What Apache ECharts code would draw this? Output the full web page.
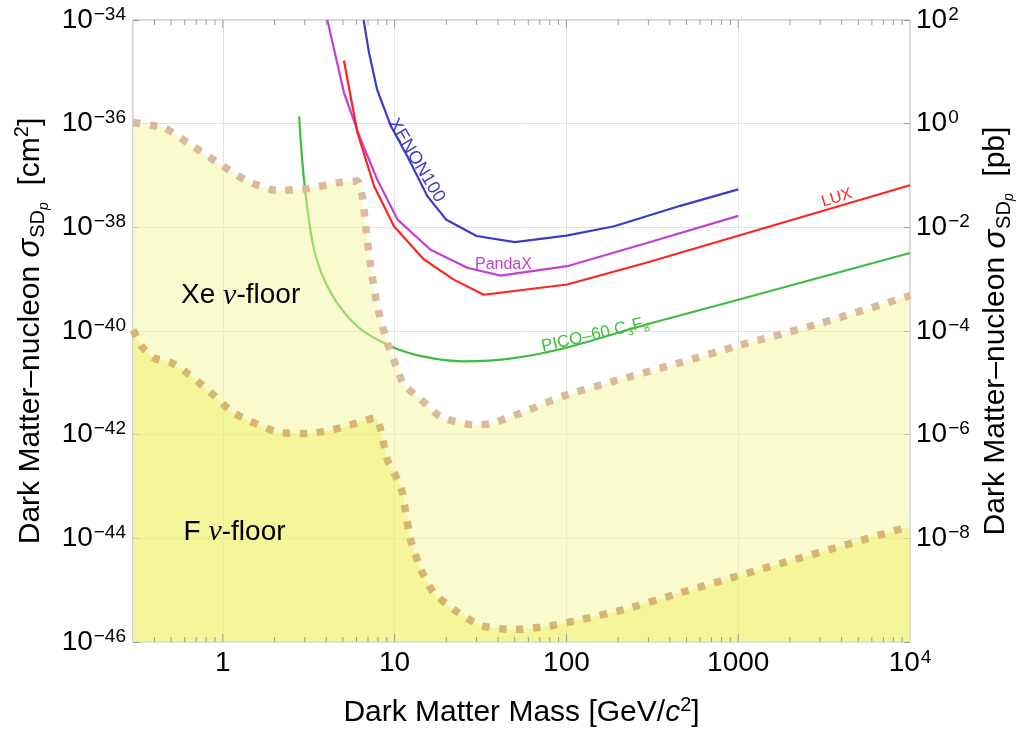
<!DOCTYPE html>
<html>
<head>
<meta charset="utf-8">
<script src="https://cdn.jsdelivr.net/npm/echarts@6/dist/echarts.min.js"></script>
<style>
html, body { margin: 0; padding: 0; background: #ffffff; }
#chart { width: 1018px; height: 730px; }
</style>
</head>
<body>
<div id="chart"></div>
<script>
const FONT = "'Liberation Sans', Arial, Helvetica, sans-serif";

// Spin-dependent WIMP-proton exclusion limits: mass [GeV/c^2], cross section [cm^2]
const xenon100Mass  = [6.6, 7.1, 7.9, 9.5, 11.9, 15.5, 20, 30, 50, 100, 190, 460, 1000];
const xenon100Sigma = [1.0e-34, 2.3e-35, 4.6e-36, 9.1e-37, 2.3e-37, 4.0e-38, 1.4e-38, 6.8e-39, 5.2e-39, 6.9e-39, 1.05e-38, 2.6e-38, 5.4e-38];

const pandaxMass  = [4.06, 5.07, 6.34, 7.93, 10.4, 16.2, 26.5, 41.4, 101, 294, 1000];
const pandaxSigma = [1.0e-34, 3.98e-36, 5.0e-37, 8.3e-38, 1.41e-38, 3.7e-39, 1.66e-39, 1.17e-39, 1.78e-39, 5.0e-39, 1.66e-38];

const luxMass  = [5.07, 6.07, 7.59, 9.91, 14.8, 22.1, 33, 101, 295, 1000, 10000];
const luxSigma = [1.66e-35, 6.76e-37, 6.3e-38, 1.05e-38, 2.4e-39, 9.8e-40, 5.0e-40, 7.9e-40, 2.1e-39, 6.9e-39, 6.5e-38];

const picoMass  = [2.78, 2.97, 3.40, 4.25, 6.07, 9.48, 14.8, 25.3, 49.4, 101, 295, 1000, 10000];
const picoSigma = [1.38e-36, 8.3e-38, 3.7e-39, 5.5e-40, 1.23e-40, 5.1e-41, 3.2e-41, 2.6e-41, 3.0e-41, 4.8e-41, 1.35e-40, 4.0e-40, 3.2e-39];

// Neutrino floors (coherent neutrino scattering backgrounds) for xenon and fluorine targets
const xeFloorMass  = [0.3, 0.456, 0.623, 0.931, 1.39, 2.08, 3.11, 4.86, 6.07, 6.49, 6.78, 7.25, 7.93, 9.07, 10.4, 11.3, 14.2, 18.5, 28.9, 36.1, 54.1, 96.4, 188, 460, 1000, 3000, 10000];
const xeFloorSigma = [1.05e-36, 8.3e-37, 4.3e-37, 1.78e-37, 7.8e-38, 5.1e-38, 5.6e-38, 7.4e-38, 7.8e-38, 4.0e-38, 1.05e-38, 1.78e-39, 3.0e-40, 5.9e-41, 1.8e-41, 9.3e-42, 4.8e-42, 2.2e-42, 1.55e-42, 1.62e-42, 2.6e-42, 5.6e-42, 1.07e-41, 2.45e-41, 5.2e-41, 1.4e-40, 4.8e-40];

const fFloorMass  = [0.3, 0.341, 0.399, 0.499, 0.596, 0.713, 0.851, 1.16, 2.08, 3.11, 4.86, 7.76, 8.29, 9.07, 10.4, 11.1, 11.6, 12.4, 14.2, 16.9, 22.1, 31.6, 49.4, 77.2, 121, 215, 460, 1228, 10000];
const fFloorSigma = [1.05e-40, 4.8e-41, 3.0e-41, 2.45e-41, 1.7e-41, 1.07e-41, 6.5e-42, 2.6e-42, 1.12e-42, 1.05e-42, 1.35e-42, 2.1e-42, 1.26e-42, 3.3e-43, 1.35e-43, 7.6e-44, 3.1e-44, 9.3e-45, 2.5e-45, 8.9e-46, 4.2e-46, 2.1e-46, 1.74e-46, 2.0e-46, 2.7e-46, 4.2e-46, 8.9e-46, 2.3e-45, 1.7e-44];

// Decade and sub-decade tick positions on the mass axis
const majorMassTicks = [1, 10, 100, 1000];
const minorMassTicks = [0.4, 0.5, 0.6, 0.7, 0.8, 0.9,
  2, 3, 4, 5, 6, 7, 8, 9,
  20, 30, 40, 50, 60, 70, 80, 90,
  200, 300, 400, 500, 600, 700, 800, 900,
  2000, 3000, 4000, 5000, 6000, 7000, 8000, 9000];

// Cross-section axis: decade exponents in cm^2; 1 pb = 1e-36 cm^2
const sigmaExpMin = -46;
const sigmaExpMax = -34;
const sigmaExpStep = 2;
const pbOffset = 36;

// Annotation anchors [mass, cross section in cm^2]
const xeFloorLabelAt  = [1.27, 4.8e-40];
const fFloorLabelAt   = [1.17, 1.3e-44];
const xenonLabelAt    = [13.4, 1.95e-37];
const pandaxLabelAt   = [43, 1.9e-39];
const luxLabelAt      = [3750, 3.7e-38];
const picoLabelAt     = [147, 8.5e-41];

// The cross-section axis runs over decade exponents, so points are placed at log10(sigma)
const toPoint = (m, s) => [m, Math.log10(s)];
const zip = (xs, ys) => xs.map((x, i) => toPoint(x, ys[i]));

const SUP = (e) => (e < 0 ? '\u2212' : '') + Math.abs(e);
const tickRich = {
  b: { fontFamily: FONT, fontSize: 28, color: '#000', lineHeight: 30, verticalAlign: 'middle' },
  s: { fontFamily: FONT, fontSize: 19, color: '#000', lineHeight: 30, verticalAlign: 'top', padding: [0, 0, 0, 1] }
};

function titleRich() {
  return {
    t: { fontFamily: FONT, fontSize: 30, color: '#000', lineHeight: 40, verticalAlign: 'middle' },
    sig: { fontFamily: FONT, fontSize: 31, fontStyle: 'italic', color: '#000', lineHeight: 40, verticalAlign: 'middle', padding: [0, 1, 0, 0] },
    sd: { fontFamily: FONT, fontSize: 20, color: '#000', lineHeight: 40, verticalAlign: 'bottom', padding: [0, 0, 2, 0] },
    p: { fontFamily: FONT, fontSize: 14, fontStyle: 'italic', color: '#000', lineHeight: 40, verticalAlign: 'bottom' },
    sup: { fontFamily: FONT, fontSize: 20, color: '#000', lineHeight: 40, verticalAlign: 'top', padding: [2, 0, 0, 0] },
    c: { fontFamily: FONT, fontSize: 30, fontStyle: 'italic', color: '#000', lineHeight: 40, verticalAlign: 'middle' }
  };
}

function limitLine(name, data, color, smooth) {
  return {
    name, type: 'line', data, z: 2, showSymbol: false, smooth: smooth || false,
    lineStyle: { color, width: 2.2 }, silent: true, clip: true
  };
}

function floorArea(name, data, dotColor, fill, z) {
  return {
    name, type: 'line', data, z, showSymbol: false, smooth: 0.2, silent: true,
    lineStyle: { color: dotColor, width: 7.5, type: [7.5, 9.5], cap: 'butt' },
    areaStyle: { color: fill, origin: 'start', opacity: 1 }
  };
}

function textMark(at, text, color, size, rotate, rich) {
  const label = {
    show: true, position: 'inside', rotate: rotate || 0,
    formatter: text, color, fontFamily: FONT, fontSize: size,
    textBorderWidth: 0, textBorderColor: 'transparent', opacity: 1
  };
  if (rich) label.rich = rich;
  return {
    type: 'scatter', data: [toPoint(at[0], at[1])], z: 6, silent: true,
    symbol: 'circle', symbolSize: 1, itemStyle: { color: 'rgba(0,0,0,0)' },
    label, emphasis: { disabled: true }
  };
}

function sigmaAxis(position, name, nameGap, shift, lowest) {
  return {
    type: 'value', min: sigmaExpMin, max: sigmaExpMax, interval: sigmaExpStep,
    position,
    name, nameLocation: 'middle', nameGap, nameRotate: 90,
    nameTextStyle: { rich: titleRich() },
    axisLine: { show: false },
    axisTick: { show: true, inside: true, length: 6, lineStyle: { color: '#9a9a9a' } },
    axisLabel: {
      margin: position === 'left' ? 7 : 6,
      formatter: (v) => {
        const e = Math.round(v + shift);
        if (lowest !== undefined && e < lowest) return '';
        return '{b|10}{s|' + SUP(e) + '}';
      },
      rich: tickRich
    },
    splitLine: { show: position === 'left', lineStyle: { color: '#e2e2e2', width: 1 } }
  };
}

const nuRich = { nu: { fontFamily: "'Liberation Serif', serif", fontStyle: 'italic', fontSize: 30, color: '#000' } };

const chart = echarts.init(document.getElementById('chart'), null, { renderer: 'canvas' });

const option = {
  backgroundColor: '#ffffff',
  animation: false,
  grid: {
    left: 133, right: 108, top: 20, bottom: 88,
    containLabel: false, outerBoundsMode: 'none',
    show: true, borderColor: '#a9a9a9', borderWidth: 1, backgroundColor: '#ffffff'
  },
  xAxis: {
    type: 'log', logBase: 10, min: 0.3, max: 10000,
    name: '{t|Dark Matter Mass [GeV/}{c|c}{sup|2}{t|]}',
    nameLocation: 'middle', nameGap: 51,
    nameTextStyle: { rich: titleRich() },
    axisLine: { show: false },
    axisTick: { show: false },
    axisLabel: {
      margin: 6,
      formatter: (v) => {
        const l = Math.log10(v), e = Math.round(l);
        if (Math.abs(l - e) > 1e-6) return '';
        if (e <= 3) return '{b|' + Math.pow(10, e) + '}';
        return '{b|10}{s|' + e + '}';
      },
      rich: tickRich
    },
    splitLine: { show: true, lineStyle: { color: '#e2e2e2', width: 1 } }
  },
  yAxis: [
    sigmaAxis('left', '{t|Dark Matter\u2013nucleon }{sig|\u03c3}{sd|SD}{p|p}{t|  [cm}{sup|2}{t|]}', 82, 0),
    sigmaAxis('right', '{t|Dark Matter\u2013nucleon }{sig|\u03c3}{sd|SD}{p|p}{t|  [pb]}', 66, pbOffset, -8)
  ],
  series: [
    limitLine('XENON100', zip(xenon100Mass, xenon100Sigma), '#3b3bc8'),
    limitLine('PandaX', zip(pandaxMass, pandaxSigma), '#c23fcf'),
    limitLine('LUX', zip(luxMass, luxSigma), '#ff2323'),
    limitLine('PICO-60 C3F8', zip(picoMass, picoSigma), '#3dbd3d', 0.3),

    floorArea('Xe neutrino floor', zip(xeFloorMass, xeFloorSigma), '#dbb99c', 'rgba(246,246,160,0.5)', 3),
    floorArea('F neutrino floor', zip(fFloorMass, fFloorSigma), '#d8b672', 'rgba(236,236,60,0.36)', 4),

    {
      type: 'custom', z: 5, silent: true, clip: false,
      data: majorMassTicks.map(m => [m, -40, 8]).concat(minorMassTicks.map(m => [m, -40, 5])),
      encode: { x: 0, y: 1 },
      renderItem: (params, api) => {
        const cs = params.coordSys;
        const x = api.coord([api.value(0), api.value(1)])[0];
        const len = api.value(2);
        const style = { stroke: '#9a9a9a', lineWidth: 1 };
        return {
          type: 'group', children: [
            { type: 'line', shape: { x1: x, y1: cs.y + cs.height, x2: x, y2: cs.y + cs.height - len }, style },
            { type: 'line', shape: { x1: x, y1: cs.y, x2: x, y2: cs.y + len }, style }
          ]
        };
      }
    },

    textMark(xeFloorLabelAt, 'Xe {nu|\u03bd}-floor', '#000', 28, 0, nuRich),
    textMark(fFloorLabelAt, 'F {nu|\u03bd}-floor', '#000', 28, 0, nuRich),
    textMark(xenonLabelAt, 'XENON100', '#3b3bc8', 18, -59),
    textMark(pandaxLabelAt, 'PandaX', '#c23fcf', 16, 0),
    textMark(luxLabelAt, 'LUX', '#ff2323', 16, 17),
    textMark(picoLabelAt, 'PICO\u201360 C{sb|3}F{sb|8}', '#3dbd3d', 17, 13,
      { sb: { fontFamily: FONT, fontSize: 11, color: '#3dbd3d', verticalAlign: 'bottom', lineHeight: 22 } })
  ]
};

chart.setOption(option);
</script>
</body>
</html>
